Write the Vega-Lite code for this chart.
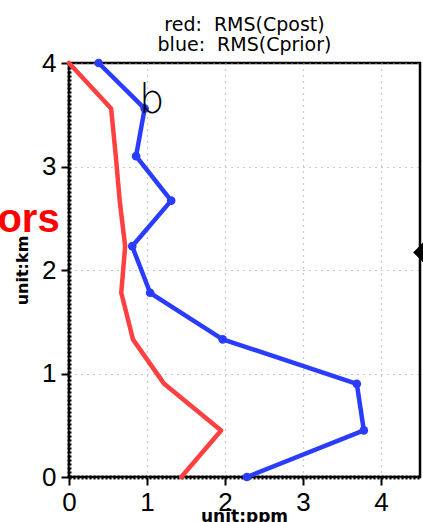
{
  "$schema": "https://vega.github.io/schema/vega-lite/v6.json",
  "autosize": {"type": "none"},
  "width": 351,
  "height": 414,
  "padding": {"left": 69, "top": 63, "right": 3, "bottom": 45},
  "background": "white",
  "config": {
    "view": {"stroke": "black", "strokeWidth": 2.5},
    "font": "DejaVu Sans"
  },
  "title": {
    "text": ["red:\u00a0 RMS(Cpost)", "blue:\u00a0 RMS(Cprior)"],
    "fontSize": 19,
    "fontWeight": "normal",
    "font": "DejaVu Sans",
    "color": "black",
    "lineHeight": 20,
    "offset": -5,
    "anchor": "middle",
    "frame": "group"
  },
  "datasets": {
    "profiles": [
      {"series": "Cprior", "h": 4.0, "rms": 0.38},
      {"series": "Cprior", "h": 3.56, "rms": 0.97},
      {"series": "Cprior", "h": 3.1, "rms": 0.86},
      {"series": "Cprior", "h": 2.67, "rms": 1.31},
      {"series": "Cprior", "h": 2.23, "rms": 0.81},
      {"series": "Cprior", "h": 1.78, "rms": 1.04},
      {"series": "Cprior", "h": 1.33, "rms": 1.97},
      {"series": "Cprior", "h": 0.9, "rms": 3.69},
      {"series": "Cprior", "h": 0.45, "rms": 3.78},
      {"series": "Cprior", "h": 0.0, "rms": 2.28},
      {"series": "Cpost", "h": 4.0, "rms": 0.0},
      {"series": "Cpost", "h": 3.56, "rms": 0.54},
      {"series": "Cpost", "h": 3.1, "rms": 0.6},
      {"series": "Cpost", "h": 2.67, "rms": 0.65},
      {"series": "Cpost", "h": 2.23, "rms": 0.72},
      {"series": "Cpost", "h": 1.78, "rms": 0.67},
      {"series": "Cpost", "h": 1.33, "rms": 0.82},
      {"series": "Cpost", "h": 0.9, "rms": 1.22},
      {"series": "Cpost", "h": 0.45, "rms": 1.95},
      {"series": "Cpost", "h": 0.0, "rms": 1.44}
    ],
    "notes": [
      {"label": "b", "x": 1.06, "y": 3.52, "kind": "letter"},
      {"label": "ors", "x": -0.12, "y": 2.48, "kind": "word"}
    ],
    "marker": [{"x": 4.54, "y": 2.17}]
  },
  "layer": [
    {
      "data": {"name": "profiles"},
      "mark": {"type": "line", "strokeWidth": 4.5, "strokeJoin": "round", "strokeCap": "round"},
      "encoding": {
        "x": {
          "field": "rms", "type": "quantitative",
          "scale": {"domain": [0, 4.5], "nice": false, "zero": false},
          "axis": {
            "values": [0, 1, 2, 3, 4],
            "format": "d",
            "labelFlush": false,
            "title": "unit:ppm",
            "titleFont": "DejaVu Sans",
            "titleFontSize": 17,
            "titleFontWeight": "bold",
            "titleColor": "black",
            "titleX": 175,
            "titleY": 44,
            "titleBaseline": "alphabetic",
            "titleAnchor": "middle",
            "labelFont": "Liberation Sans",
            "labelFontSize": 26,
            "labelColor": "black",
            "labelPadding": 4,
            "tickSize": 8,
            "tickWidth": 2,
            "tickColor": "black",
            "domainColor": "black",
            "domainWidth": 4,
            "domainDash": [2, 2],
            "grid": true,
            "gridColor": "#9a9a9a",
            "gridDash": [1, 5],
            "gridWidth": 1.2
          }
        },
        "y": {
          "field": "h", "type": "quantitative",
          "scale": {"domain": [0, 4], "nice": false, "zero": false},
          "axis": {
            "values": [0, 1, 2, 3, 4],
            "format": "d",
            "labelFlush": false,
            "title": "unit:km",
            "titleFont": "DejaVu Sans",
            "titleFontSize": 16,
            "titleFontWeight": "bold",
            "titleColor": "black",
            "titleAngle": -90,
            "titleX": -47,
            "titleY": 207,
            "titleAlign": "center",
            "titleBaseline": "middle",
            "labelFont": "Liberation Sans",
            "labelFontSize": 26,
            "labelColor": "black",
            "labelPadding": 5,
            "tickSize": 8,
            "tickWidth": 2,
            "tickColor": "black",
            "domainColor": "black",
            "domainWidth": 4,
            "domainDash": [2, 2],
            "grid": true,
            "gridColor": "#9a9a9a",
            "gridDash": [1, 5],
            "gridWidth": 1.2
          }
        },
        "order": {"field": "h", "type": "quantitative"},
        "color": {
          "field": "series", "type": "nominal",
          "scale": {"domain": ["Cprior", "Cpost"], "range": ["#2a3cff", "#ff4040"]},
          "legend": null
        }
      }
    },
    {
      "data": {"name": "profiles"},
      "transform": [{"filter": "datum.series == 'Cprior'"}],
      "mark": {"type": "point", "filled": true, "size": 75, "opacity": 1},
      "encoding": {
        "x": {"field": "rms", "type": "quantitative"},
        "y": {"field": "h", "type": "quantitative"},
        "color": {"value": "#2a3cff"}
      }
    },
    {
      "data": {"name": "profiles"},
      "transform": [{"filter": "datum.series == 'Cpost'"}],
      "mark": {"type": "point", "filled": true, "size": 12, "opacity": 1},
      "encoding": {
        "x": {"field": "rms", "type": "quantitative"},
        "y": {"field": "h", "type": "quantitative"},
        "color": {"value": "#ff4040"}
      }
    },
    {
      "data": {"name": "notes"},
      "transform": [{"filter": "datum.kind == 'letter'"}],
      "mark": {"type": "text", "font": "DejaVu Sans", "fontWeight": 200, "fontSize": 40, "align": "center", "baseline": "alphabetic", "color": "black"},
      "encoding": {
        "x": {"field": "x", "type": "quantitative"},
        "y": {"field": "y", "type": "quantitative"},
        "text": {"field": "label"}
      }
    },
    {
      "data": {"name": "notes"},
      "transform": [{"filter": "datum.kind == 'word'"}],
      "mark": {"type": "text", "font": "Liberation Sans", "fontWeight": "bold", "fontSize": 40, "align": "right", "baseline": "middle", "color": "#ff0000"},
      "encoding": {
        "x": {"field": "x", "type": "quantitative"},
        "y": {"field": "y", "type": "quantitative"},
        "text": {"field": "label"}
      }
    },
    {
      "data": {"name": "marker"},
      "mark": {"type": "point", "shape": "diamond", "filled": true, "size": 400, "color": "black", "opacity": 1},
      "encoding": {
        "x": {"field": "x", "type": "quantitative"},
        "y": {"field": "y", "type": "quantitative"}
      }
    }
  ]
}
